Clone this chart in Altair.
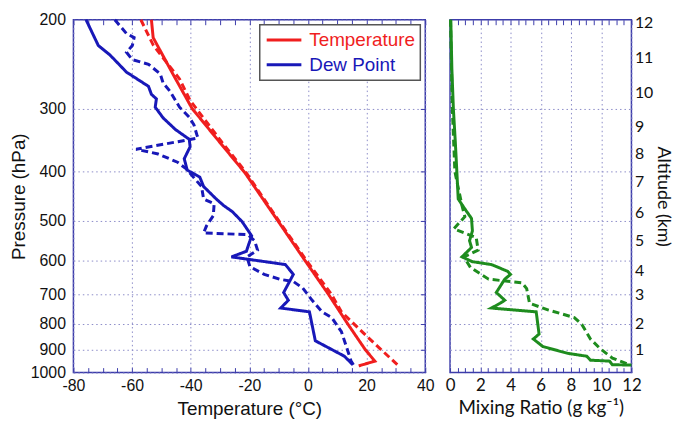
import json
import altair as alt
import pandas as pd

# ---------------- data ----------------
# Temperature, solid and dashed soundings: pressure (hPa) / temperature (degC)
temp_solid_p = [200, 217, 256, 300, 348, 402, 510, 600, 700, 800, 900, 949, 970]
temp_solid_t = [-53.4, -52.8, -46.1, -39.5, -30.4, -21.5, -9.3, -1.0, 7.0, 13.5, 19.5, 22.8, 17.3]
temp_dash_p = [200, 225, 262, 289, 350, 400, 500, 600, 700, 758, 850, 965]
temp_dash_t = [-57.0, -52.7, -43.8, -40.2, -29.3, -21.3, -10.0, -0.5, 8.0, 11.4, 20.3, 30.5]

# Dew point
dew_solid_p = [200, 225, 235, 254, 265, 271, 281, 287, 298, 313, 330, 345, 357, 377, 397, 410, 428,
               453, 467, 480, 502, 536, 548, 575, 590, 611, 639, 694, 719, 745, 758, 865, 928, 965]
dew_solid_t = [-75.7, -71.5, -67.5, -61.9, -57.0, -54.4, -53.4, -51.7, -52.1, -49.4, -45.2, -40.5,
               -40.2, -42.2, -41.2, -36.9, -35.6, -31.3, -28.7, -25.8, -22.5, -19.2, -19.8, -21.0,
               -26.1, -7.7, -5.0, -8.3, -6.7, -9.3, 0.5, 2.5, 12.4, 15.3]
dew_dash_p = [200, 213, 217, 225, 232, 240, 245, 256, 267, 277, 298, 312, 323, 338, 343, 361, 369,
              383, 395, 428, 453, 463, 489, 512, 529, 533, 548, 572, 590, 617, 639, 654, 660, 680,
              720, 758, 778, 830, 910, 949, 965]
dew_dash_t = [-65.9, -61.9, -59.3, -59.9, -61.9, -59.9, -54.4, -50.4, -49.4, -47.1, -43.8, -40.5,
              -38.9, -37.9, -37.5, -58.6, -51.1, -44.5, -41.5, -36.3, -35.6, -32.0, -32.3, -34.6,
              -35.6, -20.5, -18.2, -17.2, -20.8, -19.8, -14.9, -9.3, -5.0, -1.8, 1.5, 4.8, 8.1,
              11.4, 13.7, 14.7, 15.5]

# Mixing ratio (g/kg)
mr_solid_p = [200, 250, 300, 350, 400, 453, 474, 495, 524, 548, 565, 590, 603, 611, 630, 639, 653,
              694, 719, 729, 745, 758, 839, 858, 888, 916, 928, 945, 949, 965, 966]
mr_solid_v = [0.05, 0.12, 0.22, 0.35, 0.45, 0.54, 0.98, 1.42, 1.48, 1.29, 1.42, 0.79, 1.48, 2.74,
              3.81, 4.0, 3.62, 3.06, 3.62, 3.31, 2.74, 5.70, 5.89, 5.51, 6.14, 7.78, 9.04, 9.29,
              10.55, 10.74, 12.0]
mr_dash_p = [200, 300, 400, 467, 491, 519, 540, 572, 590, 619, 653, 664, 682, 729, 752, 778, 803,
             858, 896, 936, 965]
mr_dash_v = [0.03, 0.15, 0.32, 0.79, 0.98, 0.25, 1.73, 1.86, 0.91, 1.35, 2.55, 4.76, 5.07, 5.26,
             6.52, 8.22, 8.72, 9.29, 9.92, 10.74, 11.87]

# axes
pressure_labels = [200, 300, 400, 500, 600, 700, 800, 900, 1000]
pressure_grid = [300, 400, 500, 600, 700, 800, 900]
temp_ticks = list(range(-80, 41, 5))
temp_labels = list(range(-80, 41, 20))
mr_ticks = [i / 2 for i in range(0, 25)]
mr_labels = list(range(0, 13, 2))
altitude_km = [1, 2, 3, 4, 5, 6, 7, 8, 9, 10, 11, 12]
altitude_p = [900, 800, 700, 628, 548, 482, 419, 369, 326, 279, 238, 203]

# ---------------- tables ----------------
rows = []
for var, run, ps, ts in [("Temperature", "solid", temp_solid_p, temp_solid_t),
                         ("Temperature", "dashed", temp_dash_p, temp_dash_t),
                         ("Dew Point", "solid", dew_solid_p, dew_solid_t),
                         ("Dew Point", "dashed", dew_dash_p, dew_dash_t)]:
    for i, (p, t) in enumerate(zip(ps, ts)):
        rows.append({"var": var, "run": run, "p": p, "t": t, "idx": i})
df_left = pd.DataFrame(rows)

rows = []
for run, ps, vs in [("solid", mr_solid_p, mr_solid_v), ("dashed", mr_dash_p, mr_dash_v)]:
    for i, (p, v) in enumerate(zip(ps, vs)):
        rows.append({"run": run, "p": p, "mr": v, "idx": i})
df_right = pd.DataFrame(rows)

# ---------------- styling ----------------
RED = "#f01e1e"
BLUE = "#1818b8"
GREEN = "#1e8c1e"
FRAME = "#3c3caa"
ARIAL = "Liberation Sans"
CAL = "Lato"
INWARD = alt.ExprRef("-5")

p_scale = alt.Scale(type="log", domain=[200, 1000], reverse=True, nice=False)
dash_scale = alt.Scale(domain=["solid", "dashed"], range=[[1, 0], [7, 4]])

# ---------------- left panel ----------------
left_lines = alt.Chart(df_left).mark_line(strokeWidth=3).encode(
    x=alt.X("t:Q", scale=alt.Scale(domain=[-80, 40], nice=False, zero=False),
            axis=alt.Axis(values=temp_labels, labelExpr="'' + datum.value",
                          ticks=False, labelPadding=5, labelFlush=False, labelOverlap=False,
                          labelFont=ARIAL, labelFontSize=16, titleFont=ARIAL, titleFontSize=19,
                          titlePadding=6, title="Temperature (°C)")),
    y=alt.Y("p:Q", scale=p_scale,
            axis=alt.Axis(values=pressure_labels, format="d", ticks=False, labelPadding=8,
                          labelOverlap=False, labelFont=ARIAL, labelFontSize=16,
                          titleFont=ARIAL, titleFontSize=19, titlePadding=2, title="Pressure (hPa)")),
    color=alt.Color("var:N", scale=alt.Scale(domain=["Temperature", "Dew Point"], range=[RED, BLUE]),
                    legend=alt.Legend(title=None, orient="top-right", offset=5,
                                      symbolType="M-2,0H2", symbolSize=306, symbolOffset=9,
                                      symbolStrokeWidth=3, labelFontSize=19,
                                      labelFont=ARIAL, labelOffset=15,
                                      labelColor=alt.ExprRef(f"datum.label === 'Temperature' ? '{RED}' : '{BLUE}'"),
                                      fillColor="white", strokeColor="#555555", padding=5, rowPadding=4)),
    strokeDash=alt.StrokeDash("run:N", scale=dash_scale, legend=None),
    order=alt.Order("idx:Q"),
)

left_ghost = alt.Chart(df_left).mark_point(opacity=0).encode(
    x=alt.X("t:Q", axis=alt.Axis(orient="top", values=temp_ticks, labels=False, tickSize=INWARD,
                                 grid=False, title=None, minExtent=0, maxExtent=0)),
    y=alt.Y("p:Q", axis=alt.Axis(orient="right", values=pressure_grid, labels=False, tickSize=INWARD,
                                 grid=False, title=None, minExtent=0, maxExtent=0)),
)

left_minor = alt.Chart(df_left).mark_point(opacity=0).encode(
    x=alt.X("t:Q", axis=alt.Axis(orient="bottom", values=temp_ticks, labels=False, tickSize=INWARD,
                                 gridOpacity={"condition": {"test": "datum.value % 20 === 0", "value": 1}, "value": 0},
                                 title=None, minExtent=0, maxExtent=0)),
    y=alt.Y("p:Q", axis=None),
)

left = alt.layer(left_lines, left_ghost, left_minor).resolve_axis(
    x="independent", y="independent").properties(width=355, height=356)

# ---------------- right panel ----------------
alt_expr = "indexof(" + json.dumps(altitude_p) + ", datum.value) + 1"

right_lines = alt.Chart(df_right).mark_line(strokeWidth=3, color=GREEN).encode(
    x=alt.X("mr:Q", scale=alt.Scale(domain=[0, 12], nice=False, zero=False),
            axis=alt.Axis(values=mr_labels, labelExpr="'' + datum.value",
                          ticks=False, labelPadding=5, labelFlush=False, labelOverlap=False,
                          labelFont=CAL, labelFontSize=17, titleFont=CAL, titleFontSize=19,
                          titlePadding=5, title="Mixing Ratio (g kg⁻¹)")),
    y=alt.Y("p:Q", scale=p_scale,
            axis=alt.Axis(values=pressure_grid, labels=False, ticks=False, title=None,
                          minExtent=0, maxExtent=0)),
    strokeDash=alt.StrokeDash("run:N", scale=dash_scale, legend=None),
    order=alt.Order("idx:Q"),
)

right_ghost = alt.Chart(df_right).mark_point(opacity=0).encode(
    x=alt.X("mr:Q", axis=alt.Axis(orient="top", values=mr_ticks, labels=False, tickSize=INWARD,
                                  grid=False, title=None, minExtent=0, maxExtent=0)),
    y=alt.Y("p:Q", axis=alt.Axis(orient="right", values=altitude_p, labelExpr=alt_expr, ticks=False,
                                 grid=False, labelOverlap=False, labelPadding=3, labelFont=CAL,
                                 labelFontSize=16, titleFont=CAL, titleFontSize=18, titlePadding=1,
                                 minExtent=0, title="Altitude (km)")),
)

right_minor = alt.Chart(df_right).mark_point(opacity=0).encode(
    x=alt.X("mr:Q", axis=alt.Axis(orient="bottom", values=mr_ticks, labels=False, tickSize=INWARD,
                                  gridOpacity={"condition": {"test": "datum.value % 2 === 0", "value": 1}, "value": 0},
                                  title=None, minExtent=0, maxExtent=0)),
    y=alt.Y("p:Q", axis=None),
)

right = alt.layer(right_lines, right_ghost, right_minor).resolve_axis(
    x="independent", y="independent").properties(width=183, height=356)

chart = alt.hconcat(left, right, spacing=8).resolve_scale(
    color="independent", strokeDash="independent"
).properties(
    padding={"left": 0, "top": 1, "right": 6, "bottom": 0}
).configure_view(
    stroke=FRAME, strokeWidth=1.5
).configure_axis(
    domain=False, tickColor=FRAME, tickWidth=1, labelColor="#111111", titleColor="#111111",
    titleFontWeight="normal", gridColor="#8c8cc8", gridDash=[1.5, 3], gridWidth=1
).configure_legend(
    strokeWidth=1.5
)

chart.save("out.html", embed_options={"renderer": "svg", "actions": False})
